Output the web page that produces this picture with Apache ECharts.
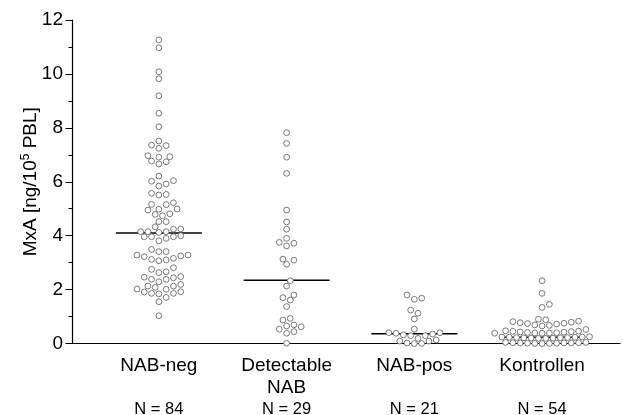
<!DOCTYPE html>
<html><head><meta charset="utf-8">
<script src="https://cdn.jsdelivr.net/npm/echarts@6/dist/echarts.min.js"></script>
<style>html,body{margin:0;padding:0;background:#fff}#c{width:623px;height:415px}</style>
</head><body><div id="c"></div>
<script>
// ---------- data ----------
const categories = ['NAB-neg', 'Detectable\nNAB', 'NAB-pos', 'Kontrollen'];
const groupSizes = ['N = 84', 'N = 29', 'N = 21', 'N = 54'];
const nabNeg = [11.26, 10.97, 10.08, 9.82, 9.19, 8.54, 8.04, 7.51, 7.36, 7.34, 7.24,
  6.97, 6.93, 6.91, 6.77, 6.74, 6.66, 6.21, 6.04, 6.02, 5.92, 5.84, 5.57, 5.53, 5.51,
  5.22, 5.16, 5.15, 4.99, 4.98, 4.95, 4.81, 4.79, 4.74, 4.52, 4.52,
  4.33, 4.25, 4.24, 4.15, 4.15, 4.15, 4.12, 4.00, 3.96, 3.96, 3.96, 3.90, 3.81,
  3.49, 3.41, 3.41, 3.28, 3.28, 3.25, 3.22, 3.16, 3.12, 3.10, 3.07,
  2.81, 2.75, 2.66, 2.63, 2.48, 2.46, 2.44, 2.38, 2.38, 2.29, 2.19,
  2.13, 2.13, 2.08, 2.02, 2.01, 1.92, 1.91, 1.86, 1.86, 1.84, 1.71, 1.55, 1.03];
const detectableNab = [7.82, 7.42, 6.91, 6.31, 4.95, 4.51, 4.24, 3.90, 3.75, 3.72, 3.62,
  3.13, 3.09, 2.94, 2.33, 2.13, 1.80, 1.70, 1.61, 1.37, 0.93, 0.87, 0.69, 0.65, 0.62,
  0.53, 0.44, 0.38, 0.01];
const nabPos = [1.80, 1.68, 1.64, 1.24, 1.12, 0.91, 0.53, 0.40, 0.40, 0.38, 0.35, 0.32,
  0.29, 0.29, 0.19, 0.13, 0.09, 0.09, 0.02, 0.00, 0.00];
const kontrollen = [2.33, 1.86, 1.45, 1.34,
  0.90, 0.88, 0.83, 0.81, 0.79, 0.77, 0.75, 0.74, 0.72, 0.69, 0.67, 0.65, 0.52,
  0.47, 0.46, 0.45, 0.44, 0.43, 0.42, 0.41, 0.40, 0.39, 0.39, 0.38, 0.38,
  0.25, 0.24, 0.24, 0.23, 0.23, 0.22, 0.22, 0.21, 0.21, 0.20, 0.20, 0.19, 0.19,
  0.04, 0.04, 0.03, 0.03, 0.02, 0.02, 0.02, 0.01, 0.01, 0.00, 0.00, 0.00];
const groups = [nabNeg, detectableNab, nabPos, kontrollen];
const medians = [4.10, 2.35, 0.36, 0.23];
const yTickValues = [0, 2, 4, 6, 8, 10, 12];

// ---------- style ----------
const FONT = "'Liberation Sans', Arial, sans-serif";
const HALF_SLOT_PX = 3.65;     // half of horizontal dot spacing
const SAME_COL_GAP = 6.5;      // min vertical px gap in same column
const HALF_COL_GAP = 5;        // min vertical px gap for half-offset neighbours
const MEDIAN_HALF_PX = 43;

const chart = echarts.init(document.getElementById('c'), null, {renderer: 'canvas'});
const base = {
  animation: false,
  backgroundColor: '#fff',
  grid: {left: 72, right: 3, top: 20, bottom: 71.5, containLabel: false, outerBoundsMode: 'none'},
  xAxis: {
    type: 'value', min: 0.32, max: 4.61,
    splitLine: {show: false},
    axisTick: {show: false},
    axisLine: {show: true, onZero: false, lineStyle: {color: '#000', width: 1.2}},
    axisLabel: {
      customValues: [1, 2, 3, 4],
      margin: 11,
      formatter: function (v) {
        const i = Math.round(v) - 1;
        const lines = categories[i].split('\n');
        let s = lines.map(l => '{c|' + l + '}').join('\n');
        if (lines.length < 2) s += '\n{c| }';
        return s + '\n{n|' + groupSizes[i] + '}';
      },
      rich: {
        c: {fontSize: 19, lineHeight: 22, fontFamily: FONT, color: '#000'},
        n: {fontSize: 16.5, lineHeight: 22, fontFamily: FONT, color: '#000'}
      }
    }
  },
  yAxis: {
    type: 'value', min: yTickValues[0], max: yTickValues[yTickValues.length - 1], interval: 2,
    splitLine: {show: false},
    axisLine: {show: true, lineStyle: {color: '#000', width: 1.2}},
    axisTick: {show: true, length: 6.5, lineStyle: {color: '#000', width: 1}},
    minorTick: {show: true, splitNumber: 2, length: 3.5, lineStyle: {color: '#000', width: 1}},
    axisLabel: {fontSize: 19, fontFamily: FONT, color: '#000', margin: 9},
    name: '{a|MxA [ng/10}{sup|5}{a| PBL]}',
    nameLocation: 'middle', nameRotate: 90, nameGap: 30, nameMoveOverlap: false,
    nameTextStyle: {
      rich: {
        a: {fontSize: 19, lineHeight: 22, fontFamily: FONT, color: '#000'},
        sup: {fontSize: 12, lineHeight: 12, fontFamily: FONT, color: '#000', verticalAlign: 'top'}
      }
    }
  },
  series: []
};
chart.setOption(base);

const pxPerX = chart.convertToPixel({xAxisIndex: 0}, 2) - chart.convertToPixel({xAxisIndex: 0}, 1);
const pxPerY = chart.convertToPixel({yAxisIndex: 0}, 0) - chart.convertToPixel({yAxisIndex: 0}, 1);

// beeswarm: place sorted values at the half-slot closest to the category centre
function swarm(values, center) {
  const sorted = values.slice().sort((a, b) => a - b);
  const placed = [];
  const out = [];
  for (const v of sorted) {
    const y = v * pxPerY;
    for (let i = 0; i < 200; i++) {
      const k = i === 0 ? 0 : (i % 2 ? (i + 1) / 2 : -i / 2);
      let ok = true;
      for (const p of placed) {
        const dk = Math.abs(p.k - k), dy = Math.abs(p.y - y);
        if ((dk === 0 && dy < SAME_COL_GAP - 1e-6) || (dk === 1 && dy < HALF_COL_GAP - 1e-6)) { ok = false; break; }
      }
      if (ok) {
        placed.push({k, y});
        out.push([center + k * HALF_SLOT_PX / pxPerX, v]);
        break;
      }
    }
  }
  return out;
}

const series = [];
groups.forEach((vals, gi) => {
  const c = gi + 1;
  const hw = MEDIAN_HALF_PX / pxPerX;
  series.push({
    type: 'line', silent: true, z: 2, symbol: 'none',
    data: [[c - hw, medians[gi]], [c + hw, medians[gi]]],
    lineStyle: {color: '#000', width: 1.5}
  });
  series.push({
    type: 'scatter', silent: true, z: 3, symbol: 'circle', symbolSize: 5.8,
    data: swarm(vals, c),
    itemStyle: {color: '#fff', borderColor: '#6a6a6a', borderWidth: 0.9, opacity: 1}
  });
});
chart.setOption({series: series});
</script>
</body></html>
